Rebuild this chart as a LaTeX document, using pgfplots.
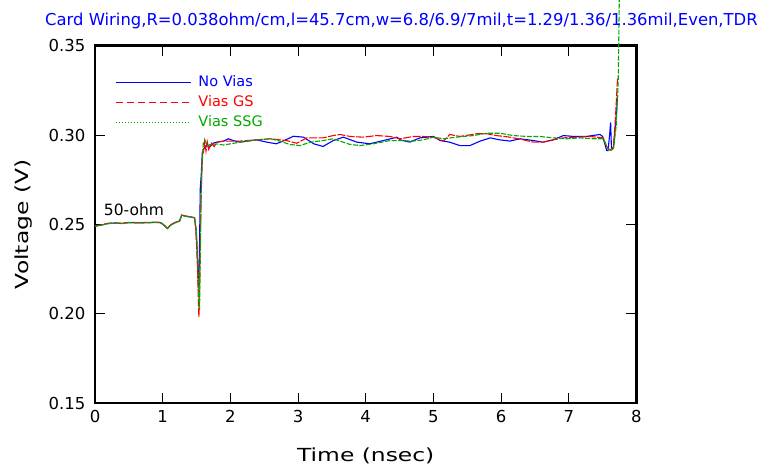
\documentclass[border=0pt]{standalone}
\usepackage{fontspec}
\setmainfont{DejaVu Sans}
\newfontfamily\labelfont{DejaVu Sans}[FakeStretch=1.3]
\usepackage{pgfplots}
\pgfplotsset{compat=1.18}
\definecolor{cblue}{RGB}{0,0,255}
\definecolor{cred}{RGB}{255,0,0}
\definecolor{cgreen}{RGB}{0,170,0}

\pgfplotstableread{
t V
0 0.2490
0.10 0.2497
0.20 0.2505
0.30 0.2508
0.40 0.2505
0.50 0.2510
0.60 0.2509
0.70 0.2509
0.80 0.2510
0.90 0.2511
0.96 0.2510
1.00 0.2502
1.07 0.2477
1.12 0.2497
1.20 0.2513
1.25 0.2518
1.28 0.2551
1.35 0.2545
1.47 0.2537
1.49 0.2480
1.51 0.2350
1.525 0.2180
1.535 0.2150
1.545 0.2400
1.555 0.2700
1.57 0.2780
1.585 0.2900
1.61 0.2925
1.65 0.2945
1.70 0.2935
1.75 0.2955
1.80 0.2960
1.90 0.2966
1.97 0.2979
2.05 0.2968
2.14 0.2960
2.25 0.2966
2.39 0.2973
2.54 0.2960
2.68 0.2951
2.80 0.2970
2.93 0.2993
3.08 0.2988
3.23 0.2951
3.37 0.2936
3.52 0.2969
3.67 0.2988
3.87 0.2960
4.06 0.2951
4.26 0.2969
4.46 0.2988
4.51 0.2973
4.65 0.2960
4.80 0.2984
5.00 0.2992
5.10 0.2969
5.24 0.2960
5.39 0.2941
5.54 0.2941
5.69 0.2966
5.84 0.2984
5.98 0.2973
6.13 0.2966
6.28 0.2979
6.48 0.2969
6.62 0.2960
6.77 0.2973
6.92 0.2997
7.07 0.2992
7.26 0.2992
7.46 0.3003
7.50 0.2992
7.56 0.2913
7.58 0.2913
7.60 0.2990
7.618 0.3071
7.63 0.2925
7.66 0.2930
7.70 0.3100
7.72 0.3220
}\noVias

\pgfplotstableread{
t V
0 0.2490
0.10 0.2498
0.20 0.2506
0.30 0.2507
0.40 0.2506
0.50 0.2511
0.60 0.2510
0.70 0.2510
0.80 0.2511
0.90 0.2512
0.96 0.2511
1.00 0.2503
1.07 0.2478
1.12 0.2498
1.20 0.2514
1.25 0.2519
1.28 0.2552
1.35 0.2546
1.47 0.2538
1.49 0.2470
1.51 0.2300
1.525 0.2100
1.535 0.1980
1.545 0.2150
1.56 0.2500
1.575 0.2750
1.59 0.2900
1.60 0.2900
1.62 0.2965
1.64 0.2910
1.66 0.2960
1.68 0.2920
1.72 0.2955
1.76 0.2935
1.80 0.2960
1.90 0.2966
2.14 0.2966
2.39 0.2973
2.59 0.2979
2.83 0.2969
2.98 0.2954
3.13 0.2984
3.37 0.2984
3.52 0.2997
3.62 0.3003
3.77 0.2992
3.96 0.2988
4.16 0.2997
4.36 0.2992
4.51 0.2979
4.70 0.2992
4.85 0.2992
5.00 0.2988
5.15 0.2966
5.24 0.3003
5.39 0.2992
5.64 0.3007
5.79 0.3007
5.93 0.2997
6.13 0.2988
6.33 0.2973
6.48 0.2960
6.62 0.2960
6.77 0.2973
6.92 0.2984
7.12 0.2988
7.31 0.2992
7.51 0.2984
7.56 0.2934
7.61 0.2915
7.64 0.2925
7.66 0.2935
7.69 0.3100
7.72 0.3320
}\viasGS

\pgfplotstableread{
t V
0 0.2489
0.10 0.2496
0.20 0.2504
0.30 0.2507
0.40 0.2504
0.50 0.2509
0.60 0.2508
0.70 0.2508
0.80 0.2509
0.90 0.2510
0.96 0.2509
1.00 0.2501
1.07 0.2476
1.12 0.2496
1.20 0.2512
1.25 0.2517
1.28 0.2550
1.35 0.2544
1.47 0.2536
1.50 0.2460
1.52 0.2280
1.535 0.2080
1.545 0.2020
1.555 0.2300
1.565 0.2600
1.58 0.2830
1.60 0.2955
1.63 0.2970
1.66 0.2940
1.70 0.2947
1.80 0.2950
1.90 0.2944
2.14 0.2960
2.39 0.2973
2.59 0.2979
2.73 0.2966
2.88 0.2947
3.03 0.2941
3.18 0.2960
3.37 0.2969
3.52 0.2979
3.62 0.2966
3.77 0.2947
3.92 0.2941
4.11 0.2951
4.36 0.2969
4.51 0.2969
4.70 0.2966
4.85 0.2973
5.00 0.2988
5.15 0.2979
5.34 0.2988
5.59 0.2997
5.79 0.3010
5.98 0.3010
6.18 0.2997
6.38 0.2992
6.57 0.2992
6.77 0.2984
6.97 0.2979
7.17 0.2984
7.36 0.2979
7.51 0.2979
7.58 0.2923
7.63 0.2915
7.66 0.2925
7.70 0.3050
7.73 0.3300
7.746 0.3760
}\viasSSG

\begin{document}
\begin{tikzpicture}[x=1pt,y=1pt]
\begin{axis}[
  at={(95pt,63pt)}, anchor=south west,
  scale only axis, width=541.5pt, height=357.3pt,
  xmin=0, xmax=8, ymin=0.15, ymax=0.35,
  xtick={0,1,2,3,4,5,6,7,8},
  ytick={0.15,0.20,0.25,0.30,0.35},
  yticklabel style={xshift=-6pt, /pgf/number format/.cd, fixed, fixed zerofill, precision=2},
  /pgf/number format/assume math mode=true,
  tick align=inside, major tick length=10pt,
  axis line style={line width=2.4pt},
  every tick/.style={black, line width=1pt},
  tick label style={font=\fontsize{16.5}{16.5}\selectfont},
  xticklabel style={yshift=-3.5pt},
  xlabel={Time (nsec)}, ylabel={Voltage (V)},
  label style={font=\labelfont\fontsize{18}{18}\selectfont},
  xlabel style={at={(axis description cs:0.5,-0.163)}, anchor=base},
  ylabel style={at={(axis description cs:-0.1237,0.5)}, anchor=base},
  clip=false,
  legend style={draw=none, fill=none, at={(0.037,0.916)}, anchor=north west,
    inner sep=0pt, row sep=6.5pt, column sep=7pt,
    nodes={inner sep=0pt, text height=10.5pt, text depth=3pt, font=\fontsize{14.5}{14.5}\selectfont}},
  legend cell align=left,
]
\addlegendimage{legend image code/.code={\draw[draw=cblue, line width=1.2pt] (0pt,0pt) -- (75pt,0pt);}}
\addlegendentry{\textcolor{cblue}{No Vias}}
\addlegendimage{legend image code/.code={\draw[draw=cred, line width=1.2pt, dash pattern=on 7pt off 4pt] (0pt,0pt) -- (75pt,0pt);}}
\addlegendentry{\textcolor{cred}{Vias GS}}
\addlegendimage{legend image code/.code={\draw[draw=cgreen, line width=1.2pt, dash pattern=on 1.5pt off 1.5pt] (0pt,0pt) -- (75pt,0pt);}}
\addlegendentry{\textcolor{cgreen}{Vias SSG}}

\addplot[cblue, line width=1.1pt, forget plot] table[x=t,y=V] {\noVias};
\addplot[cred, line width=1.1pt, dash pattern=on 8pt off 1.5pt, forget plot] table[x=t,y=V] {\viasGS};
\addplot[cgreen, line width=1.1pt, dash pattern=on 5pt off 1.5pt, forget plot] table[x=t,y=V] {\viasSSG};

\node[anchor=center, font=\fontsize{15.5}{15.5}\selectfont, inner sep=0pt] at (axis cs:0.576,0.2582) {50-ohm};
\end{axis}
\node[anchor=base west, text=cblue, inner sep=0pt, font=\fontsize{16.4}{16.4}\selectfont] at (45,440) {Card Wiring,R=0.038ohm/cm,l=45.7cm,w=6.8/6.9/7mil,t=1.29/1.36/1.36mil,Even,TDR};
\pgfresetboundingbox
\useasboundingbox (0,0) rectangle (774,466);
\end{tikzpicture}
\end{document}
